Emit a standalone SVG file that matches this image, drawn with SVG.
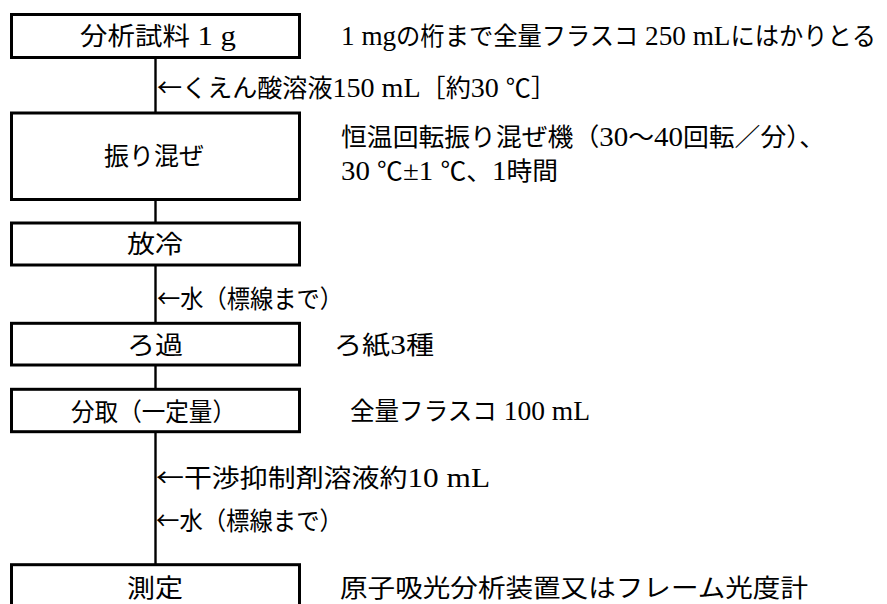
<svg xmlns="http://www.w3.org/2000/svg" width="887" height="604" viewBox="0 0 887 604">
<style>
.box{fill:#fff;stroke:#000;stroke-width:3}
.ln{stroke:#000;stroke-width:2.4;fill:none}
text{font-family:"Liberation Serif","Noto Sans CJK JP",serif;font-size:25px;fill:#000}
.c{text-anchor:middle}
.l{font-size:28px}
.a{font-family:"Noto Sans CJK JP",sans-serif}
</style>
<rect width="887" height="604" fill="#fff"/>
<g id="connectors">
<line class="ln" x1="155.5" y1="57.5" x2="155.5" y2="113"/>
<line class="ln" x1="155.5" y1="199.5" x2="155.5" y2="223"/>
<line class="ln" x1="155.5" y1="265" x2="155.5" y2="323"/>
<line class="ln" x1="155.5" y1="365" x2="155.5" y2="389"/>
<line class="ln" x1="155.5" y1="432" x2="155.5" y2="565"/>
<text x="157" y="97" textLength="399" lengthAdjust="spacingAndGlyphs"><tspan class="a">←</tspan>くえん酸溶液<tspan class="l">150 mL</tspan>［約<tspan class="l">30 </tspan>℃］</text>
<text x="157" y="308" textLength="186" lengthAdjust="spacingAndGlyphs"><tspan class="a">←</tspan>水（標線まで）</text>
<text x="156" y="487" textLength="334" lengthAdjust="spacingAndGlyphs"><tspan class="a">←</tspan>干渉抑制剤溶液約<tspan class="l">10 mL</tspan></text>
<text x="156" y="530" textLength="187" lengthAdjust="spacingAndGlyphs"><tspan class="a">←</tspan>水（標線まで）</text>
</g>
<g id="n1">
<rect class="box" x="11.5" y="14.5" width="288" height="43"/>
<text class="c" x="158" y="45" textLength="156" lengthAdjust="spacingAndGlyphs">分析試料<tspan class="l"> 1 g</tspan></text>
<text x="341" y="45" textLength="535" lengthAdjust="spacingAndGlyphs"><tspan class="l">1 mg</tspan>の桁まで全量フラスコ<tspan class="l"> 250 mL</tspan>にはかりとる</text>
</g>
<g id="n2">
<rect class="box" x="11.5" y="113" width="288" height="86.5"/>
<text class="c" x="154" y="165" textLength="100" lengthAdjust="spacingAndGlyphs">振り混ぜ</text>
<text x="341" y="146" textLength="484" lengthAdjust="spacingAndGlyphs">恒温回転振り混ぜ機（<tspan class="l">30</tspan>～<tspan class="l">40</tspan>回転／分）、</text>
<text x="341" y="180" textLength="217" lengthAdjust="spacingAndGlyphs"><tspan class="l">30 </tspan>℃<tspan class="l">±1 </tspan>℃、<tspan class="l">1</tspan>時間</text>
</g>
<g id="n3">
<rect class="box" x="11.5" y="223" width="288" height="42"/>
<text class="c" x="155" y="253" textLength="56" lengthAdjust="spacingAndGlyphs">放冷</text>
</g>
<g id="n4">
<rect class="box" x="11.5" y="323.3" width="288" height="41.7"/>
<text class="c" x="155" y="354" textLength="56" lengthAdjust="spacingAndGlyphs">ろ過</text>
<text x="334" y="354" textLength="100" lengthAdjust="spacingAndGlyphs">ろ紙<tspan class="l">3</tspan>種</text>
</g>
<g id="n5">
<rect class="box" x="11.5" y="389.3" width="288" height="42.4"/>
<text class="c" x="153.5" y="421" textLength="165" lengthAdjust="spacingAndGlyphs">分取（一定量）</text>
<text x="350" y="420" textLength="240" lengthAdjust="spacingAndGlyphs">全量フラスコ<tspan class="l"> 100 mL</tspan></text>
</g>
<g id="n6">
<rect class="box" x="11.5" y="564.7" width="288" height="60"/>
<text class="c" x="155" y="597" textLength="56" lengthAdjust="spacingAndGlyphs">測定</text>
<text x="340" y="597" textLength="468" lengthAdjust="spacingAndGlyphs">原子吸光分析装置又はフレーム光度計</text>
</g>
</svg>
